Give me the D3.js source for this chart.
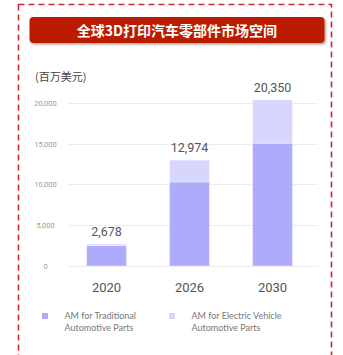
<!DOCTYPE html>
<html>
<head>
<meta charset="utf-8">
<script src="https://cdn.jsdelivr.net/npm/d3@7/dist/d3.min.js"></script>
<style>
  html, body { margin: 0; padding: 0; background: #fff; }
  svg { display: block; }
</style>
</head>
<body>
<svg id="chart" width="343" height="355"></svg>
<script>
// Market size data (million USD)
const years = ["2020", "2026", "2030"];
const traditionalParts = [2500, 10300, 15050];
const electricParts = [178, 2674, 5300];
const totals = [2678, 12974, 20350];
const yTicks = [0, 5000, 10000, 15000, 20000];
const seriesNames = ["AM for Traditional|Automotive Parts", "AM for Electric Vehicle|Automotive Parts"];
const seriesColors = ["#aeabfd", "#d8d6fd"];

const svg = d3.select("#chart");

// Dashed frame
svg.append("rect")
  .attr("x", 18.5).attr("y", 4.5)
  .attr("width", 313).attr("height", 370)
  .attr("fill", "none")
  .attr("stroke", "#c42a33")
  .attr("stroke-width", 1.6)
  .attr("stroke-dasharray", "6,4");

// Title banner with soft shadow
const defs = svg.append("defs");
const f = defs.append("filter").attr("id", "shadow").attr("x", "-10%").attr("y", "-30%").attr("width", "120%").attr("height", "170%");
f.append("feDropShadow").attr("dx", 1.5).attr("dy", 1.5).attr("stdDeviation", 1.2).attr("flood-color", "#000").attr("flood-opacity", 0.35);

svg.append("rect")
  .attr("x", 29.5).attr("y", 17)
  .attr("width", 295).attr("height", 26)
  .attr("rx", 4)
  .attr("fill", "#bb1a02")
  .attr("filter", "url(#shadow)");

svg.append("text")
  .attr("x", 177).attr("y", 35.5)
  .attr("text-anchor", "middle")
  .attr("fill", "#fff")
  .attr("font-family", "'Noto Sans CJK SC', sans-serif")
  .attr("font-weight", "bold")
  .attr("font-size", 14)
  .text("全球3D打印汽车零部件市场空间");

// Unit label
svg.append("text")
  .attr("x", 35).attr("y", 81)
  .attr("fill", "#444")
  .attr("font-family", "'Noto Sans CJK SC', sans-serif")
  .attr("font-size", 11)
  .text("(百万美元)");

// Scales
const x = d3.scaleBand().domain(years).range([65, 314]).paddingInner(0.52).paddingOuter(0.26);
const y = d3.scaleLinear().domain([0, 20000]).range([266, 102.8]);

// Gridlines
svg.append("g")
  .selectAll("line")
  .data(yTicks)
  .join("line")
  .attr("x1", 68).attr("x2", 318)
  .attr("y1", d => Math.round(y(d)) + 0.5)
  .attr("y2", d => Math.round(y(d)) + 0.5)
  .attr("stroke", "#ececec")
  .attr("stroke-width", 1);

// Y axis tick labels
svg.append("g")
  .selectAll("text")
  .data(yTicks)
  .join("text")
  .attr("x", 45.5)
  .attr("y", d => y(d) + 3)
  .attr("text-anchor", "middle")
  .attr("fill", "#9a9a9a")
  .attr("font-family", "Roboto, sans-serif")
  .attr("font-size", 7.5)
  .text(d => d3.format(",")(d));

// Stacked bars
const stackData = years.map((yr, i) => ({ year: yr, trad: traditionalParts[i], ev: electricParts[i] }));
const stacked = d3.stack().keys(["trad", "ev"])(stackData);

svg.append("g")
  .selectAll("g")
  .data(stacked)
  .join("g")
  .attr("fill", (d, i) => seriesColors[i])
  .selectAll("rect")
  .data(d => d)
  .join("rect")
  .attr("x", d => x(d.data.year))
  .attr("width", x.bandwidth())
  .attr("y", d => y(d[1]))
  .attr("height", d => y(d[0]) - y(d[1]))
  .attr("stroke", "#ffffff")
  .attr("stroke-opacity", 0.35)
  .attr("stroke-width", 1);

// Total value labels
svg.append("g")
  .selectAll("text")
  .data(years)
  .join("text")
  .attr("x", d => x(d) + x.bandwidth() / 2)
  .attr("y", (d, i) => y(totals[i]) - 8)
  .attr("text-anchor", "middle")
  .attr("fill", "#555")
  .attr("font-family", "Roboto, sans-serif")
  .attr("font-size", 12.5)
  .text((d, i) => d3.format(",")(totals[i]));

// Category labels
svg.append("g")
  .selectAll("text")
  .data(years)
  .join("text")
  .attr("x", d => x(d) + x.bandwidth() / 2)
  .attr("y", 292)
  .attr("text-anchor", "middle")
  .attr("fill", "#555")
  .attr("font-family", "Roboto, sans-serif")
  .attr("font-size", 13)
  .text(d => d);

// Legend
const legendX = [42, 169];
const legend = svg.append("g")
  .selectAll("g")
  .data(seriesNames)
  .join("g")
  .attr("transform", (d, i) => `translate(${legendX[i]},313)`);

legend.append("rect")
  .attr("width", 6).attr("height", 6)
  .attr("fill", (d, i) => seriesColors[i]);

legend.append("text")
  .attr("x", 22.5).attr("y", 6)
  .attr("fill", "#777")
  .attr("font-family", "Lato, sans-serif")
  .attr("font-size", 9)
  .selectAll("tspan")
  .data(d => d.split("|"))
  .join("tspan")
  .attr("x", 22.5)
  .attr("dy", (d, i) => i === 0 ? 0 : 12)
  .text(d => d);
</script>
</body>
</html>
